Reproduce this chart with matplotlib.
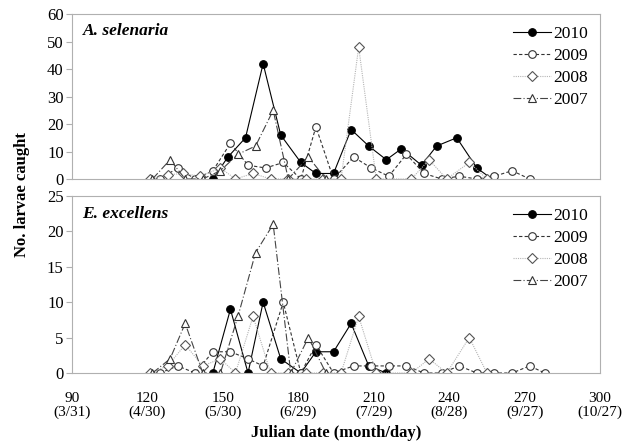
import matplotlib.pyplot as plt

plt.rcParams['font.family'] = ['Liberation Serif', 'DejaVu Serif']

# A. selenaria (top panel)
sel_2010_day = [146, 152, 159, 166, 173, 181, 187, 194, 201, 208, 215, 221, 229, 235, 243, 251, 257]
sel_2010_n = [0, 8, 15, 42, 16, 6, 2, 2, 18, 12, 7, 11, 5, 12, 15, 4, 0]
sel_2009_day = [125, 132, 139, 146, 153, 160, 167, 174, 181, 187, 194, 202, 209, 216, 223, 230, 237, 244, 251, 258, 265, 272]
sel_2009_n = [0, 4, 0, 3, 13, 5, 4, 6, 0, 19, 0, 8, 4, 1, 9, 2, 0, 1, 0, 1, 3, 0]
sel_2008_day = [121, 128, 134, 141, 149, 155, 162, 169, 176, 183, 190, 197, 204, 211, 225, 232, 239, 248, 255]
sel_2008_n = [0, 1.5, 2, 1, 4, 0, 2, 0, 0, 0, 0, 0, 48, 0, 0, 7, 0, 6, 0]
sel_2007_day = [122, 129, 135, 142, 149, 156, 163, 170, 176, 184, 191]
sel_2007_n = [0, 7, 0, 0, 3, 9, 12, 25, 0, 8, 0]

# E. excellens (bottom panel)
exc_2010_day = [146, 153, 160, 166, 173, 181, 187, 194, 201, 208, 215]
exc_2010_n = [0, 9, 0, 10, 2, 0, 3, 3, 7, 1, 0]
exc_2009_day = [125, 132, 139, 146, 153, 160, 166, 174, 181, 187, 194, 202, 209, 216, 223, 230, 237, 244, 251, 258, 265, 272, 278]
exc_2009_n = [0, 1, 0, 3, 3, 2, 1, 10, 0, 4, 0, 1, 1, 1, 1, 0, 0, 1, 0, 0, 0, 1, 0]
exc_2008_day = [121, 128, 135, 142, 149, 155, 162, 169, 176, 183, 190, 197, 204, 211, 225, 232, 239, 248, 255]
exc_2008_n = [0, 1, 4, 1, 2, 0, 8, 0, 0, 0, 0, 0, 8, 0, 0, 2, 0, 5, 0]
exc_2007_day = [122, 129, 135, 142, 149, 156, 163, 170, 177, 184, 191]
exc_2007_n = [0, 2, 7, 0, 0, 8, 17, 21, 0, 5, 0]

xticks = [90, 120, 150, 180, 210, 240, 270, 300]
xtick_labels = ['90\n(3/31)', '120\n(4/30)', '150\n(5/30)', '180\n(6/29)',
                '210\n(7/29)', '240\n(8/28)', '270\n(9/27)', '300\n(10/27)']

styles = {
    '2010': dict(color='black', ls='-', marker='o', mfc='black', mec='black'),
    '2009': dict(color='#333333', ls=(0, (3, 2)), marker='o', mfc='white', mec='#333333'),
    '2008': dict(color='#b5b5b5', ls=(0, (1, 1)), marker='D', mfc='white', mec='#555555'),
    '2007': dict(color='#444444', ls=(0, (7, 2, 1, 2)), marker='^', mfc='white', mec='#333333'),
}

fig = plt.figure(figsize=(6.29, 4.43), dpi=100)
ax1 = fig.add_axes([0.1145, 0.596, 0.8395, 0.372])
ax2 = fig.add_axes([0.1145, 0.158, 0.8395, 0.3996])

panels = [
    (ax1, 'A. selenaria', 60, 10, [(sel_2010_day, sel_2010_n), (sel_2009_day, sel_2009_n),
                                   (sel_2008_day, sel_2008_n), (sel_2007_day, sel_2007_n)]),
    (ax2, 'E. excellens', 25, 5, [(exc_2010_day, exc_2010_n), (exc_2009_day, exc_2009_n),
                                  (exc_2008_day, exc_2008_n), (exc_2007_day, exc_2007_n)]),
]

for ax, name, ymax, ystep, series in panels:
    for year, (d, n) in zip(['2010', '2009', '2008', '2007'], series):
        st = styles[year]
        ms = 4.6 if st['marker'] == 'D' else 5.5
        ax.plot(d, n, color=st['color'], ls=st['ls'], lw=0.8, marker=st['marker'],
                ms=ms, mfc=st['mfc'], mec=st['mec'], mew=0.8, label=year)
    ax.set_xlim(90, 300)
    ax.set_ylim(0, ymax)
    ax.set_yticks(range(0, ymax + 1, ystep))
    ax.set_xticks(xticks)
    for s in ax.spines.values():
        s.set_color('#b0b0b0')
    ax.tick_params(axis='y', direction='out', length=4, color='#b0b0b0', labelsize=12, pad=2)
    ax.tick_params(axis='x', length=0, labelsize=11, pad=14)
    ax.text(0.02, 0.9, name, transform=ax.transAxes, fontsize=12.5,
            fontweight='bold', fontstyle='italic', va='center')
    ax.legend(loc='upper right', frameon=False, fontsize=12.5, handlelength=2.2,
              handletextpad=0.1, labelspacing=0.33, borderaxespad=0.3)

ax1.set_xticklabels([])
ax2.set_xticklabels(xtick_labels, linespacing=1.05)
ax2.set_xlabel('Julian date (month/day)', fontsize=12, fontweight='bold', labelpad=4)
fig.text(0.035, 0.56, 'No. larvae caught', rotation=90, fontsize=12,
         fontweight='bold', ha='center', va='center')

plt.savefig('out.png', dpi=100)
